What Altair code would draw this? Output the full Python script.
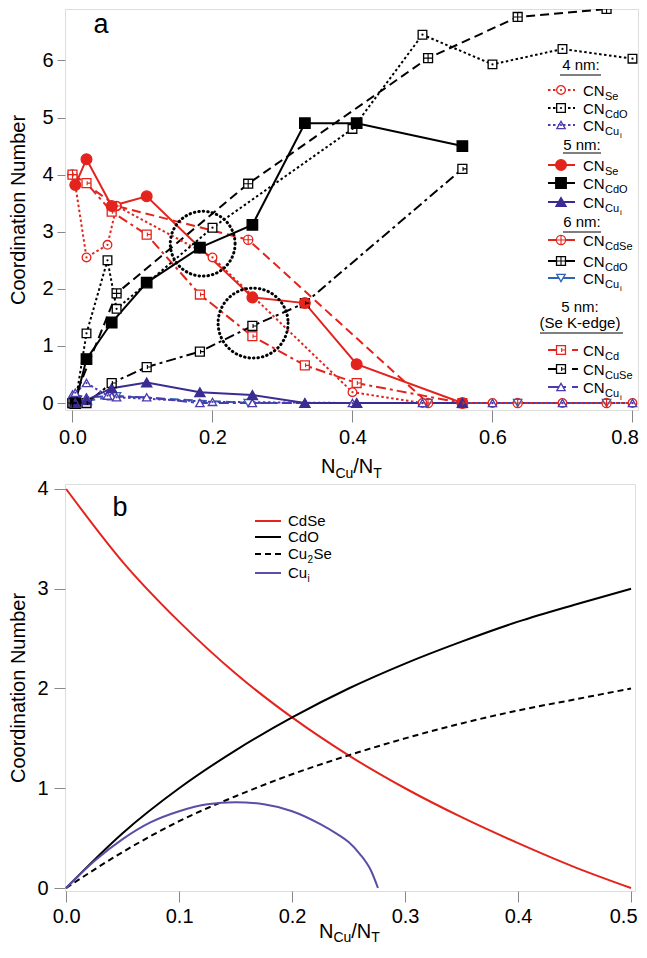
import altair as alt
import pandas as pd

# ---------------- panel a data ----------------
x_4nm = [0.004, 0.02, 0.05, 0.063, 0.2, 0.4, 0.5, 0.6, 0.7, 0.8]
cn_se_4nm = [3.82, 2.55, 2.77, 3.45, 2.55, 0.19, 0.0, 0.0, 0.0, 0.0]
cn_cdo_4nm = [0.0, 1.22, 2.5, 1.65, 3.07, 4.8, 6.45, 5.93, 6.2, 6.03]
cn_cui_4nm = [0.18, 0.35, 0.13, 0.1, 0.02, 0.0, 0.0, 0.0, 0.0, 0.0]

x_5nm = [0.004, 0.02, 0.056, 0.106, 0.182, 0.257, 0.332, 0.406, 0.557]
cn_se_5nm = [3.82, 4.27, 3.45, 3.62, 2.72, 1.85, 1.75, 0.68, 0.0]
cn_cdo_5nm = [0.0, 0.77, 1.41, 2.11, 2.72, 3.12, 4.9, 4.9, 4.5]
cn_cui_5nm = [0.0, 0.05, 0.26, 0.36, 0.19, 0.14, 0.0, 0.0, 0.0]

x_6nm = [0.0, 0.063, 0.251, 0.508, 0.636, 0.763]
cn_cdse_6nm = [4.0, 3.45, 2.86, 0.0, 0.0, 0.0]
cn_cdo_6nm = [0.0, 1.92, 3.84, 6.04, 6.76, 6.9]
cn_cui_6nm = [0.0, 0.12, 0.0, 0.0, 0.0, 0.0]

x_sek = [0.0, 0.02, 0.056, 0.106, 0.182, 0.257, 0.332, 0.406, 0.557]
cn_cd_sek = [4.0, 3.85, 3.35, 2.95, 1.9, 1.17, 0.66, 0.35, 0.0]
x_sek_cuse = [0.0, 0.02, 0.056, 0.106, 0.182, 0.257, 0.332, 0.557]
cn_cuse_sek = [0.0, 0.0, 0.35, 0.63, 0.9, 1.35, 1.75, 4.1]
cn_cui_sek = [0.15, 0.1, 0.12, 0.1, 0.0, 0.0, 0.0, 0.0, 0.0]

circle_x = [0.186, 0.258]
circle_y = [2.79, 1.40]

x_ticks_a = [0.0, 0.2, 0.4, 0.6, 0.8]
y_ticks_a = [0, 1, 2, 3, 4, 5, 6]

# ---------------- panel b data ----------------
x_b = [0.0, 0.05, 0.1, 0.15, 0.2, 0.25, 0.3, 0.35, 0.4, 0.45, 0.5]
cdse_b = [4.0, 3.27, 2.67, 2.15, 1.71, 1.33, 1.0, 0.71, 0.45, 0.21, 0.0]
cdo_b = [0.0, 0.55, 1.0, 1.38, 1.71, 2.0, 2.25, 2.47, 2.67, 2.84, 3.0]
cu2se_b = [0.0, 0.36, 0.67, 0.92, 1.14, 1.33, 1.5, 1.65, 1.78, 1.89, 2.0]
x_b_cui = [0.0, 0.025, 0.05, 0.075, 0.1, 0.125, 0.15, 0.175, 0.2, 0.225, 0.24, 0.25, 0.26, 0.27, 0.276]
cui_b = [0.0, 0.27, 0.49, 0.66, 0.77, 0.84, 0.86, 0.84, 0.77, 0.64, 0.54, 0.46, 0.34, 0.17, 0.0]

x_ticks_b = [0.0, 0.1, 0.2, 0.3, 0.4, 0.5]
y_ticks_b = [0, 1, 2, 3, 4]

# ---------------- styles ----------------
FONT = "Liberation Sans"
RED = "#e3241d"
BLACK = "#000000"
PURPLE = "#3a2c93"
PURPLE2 = "#4a3cae"
BLUE = "#2f64b5"
BPURPLE = "#5a4ea6"
DOT = [2.5, 2.5]
DASH = [9, 5]
DASHDOT = [10, 4, 3, 4]
PLUS = "M-1,0H1M0,-1V1"
BRACKET = "M0.15,-0.45V0.45M0.15,0H1"

W_A, H_A = 573, 401
W_B, H_B = 570, 407
OY = -1  # legend offset inside panel a

series_a = [
    (x_6nm, cn_cdse_6nm, RED, DASH, "circle", False, "plus", 85),
    (x_6nm, cn_cdo_6nm, BLACK, DASH, "square", False, "plus", 80),
    (x_6nm, cn_cui_6nm, BLUE, DASH, "triangle-down", False, None, 70),
    (x_sek, cn_cd_sek, RED, DASHDOT, "square", False, "bracket", 80),
    (x_sek_cuse, cn_cuse_sek, BLACK, DASHDOT, "square", False, "bracket", 80),
    (x_sek, cn_cui_sek, PURPLE2, DASHDOT, "triangle-up", False, None, 70),
    (x_4nm, cn_se_4nm, RED, DOT, "circle", False, "dot", 75),
    (x_4nm, cn_cdo_4nm, BLACK, DOT, "square", False, "dot", 75),
    (x_4nm, cn_cui_4nm, PURPLE2, DOT, "triangle-up", False, "dot", 70),
    (x_5nm, cn_se_5nm, RED, None, "circle", True, None, 115),
    (x_5nm, cn_cdo_5nm, BLACK, None, "square", True, None, 110),
    (x_5nm, cn_cui_5nm, PURPLE, None, "triangle-up", True, None, 105),
]


def last_label(v):
    return {"condition": {"test": f"datum.value >= {v}", "value": "right"}, "value": "center"}


def last_offset(v):
    return {"condition": {"test": f"datum.value >= {v}", "value": 6}, "value": 0}


xa_scale = alt.Scale(domain=[-0.0107, 0.8079], nice=False, zero=False)
ya_scale = alt.Scale(domain=[-0.122, 6.9], nice=False, zero=False)
xa = alt.X("x:Q", scale=xa_scale,
           axis=alt.Axis(values=x_ticks_a, format=".1f", tickSize=12, labelPadding=5,
                         labelFontSize=20, title=None, grid=False, domain=False,
                         labelAlign=last_label(0.79), labelOffset=last_offset(0.79)))
ya = alt.Y("y:Q", scale=ya_scale,
           axis=alt.Axis(values=y_ticks_a, format="d", tickSize=8, labelPadding=4,
                         labelFontSize=20, title="Coordination Number", titleFontSize=20,
                         titleFontWeight="normal", titlePadding=13, grid=False, domain=False))

layers_a = []
pts, dots, decos = [], [], []
for xs, ys, col, dash, shape, filled, deco, size in series_a:
    df = pd.DataFrame({"x": xs, "y": ys})
    kw = dict(color=col, strokeWidth=2, clip=True)
    if dash:
        kw["strokeDash"] = dash
    layers_a.append(alt.Chart(df).mark_line(**kw).encode(x=xa, y=ya))
    for xv, yv in zip(xs, ys):
        pts.append({"x": xv, "y": yv, "shape": shape, "fill": col if filled else "white",
                    "stroke": col, "size": size})
        if deco == "dot":
            dots.append({"x": xv, "y": yv, "stroke": col})
        elif deco in ("plus", "bracket"):
            decos.append({"x": xv, "y": yv, "stroke": col,
                          "shape": PLUS if deco == "plus" else BRACKET, "size": size})

layers_a.append(alt.Chart(pd.DataFrame(pts)).mark_point(filled=True, opacity=1, strokeWidth=1.3, clip=True).encode(
    x=xa, y=ya, shape=alt.Shape("shape:N", scale=None), fill=alt.Fill("fill:N", scale=None),
    stroke=alt.Stroke("stroke:N", scale=None), size=alt.Size("size:Q", scale=None)))
layers_a.append(alt.Chart(pd.DataFrame(dots)).mark_point(filled=True, opacity=1, size=5, shape="circle", clip=True).encode(
    x=xa, y=ya, fill=alt.Fill("stroke:N", scale=None)))
layers_a.append(alt.Chart(pd.DataFrame(decos)).mark_point(filled=False, opacity=1, strokeWidth=1.1, clip=True).encode(
    x=xa, y=ya, shape=alt.Shape("shape:N", scale=None), stroke=alt.Stroke("stroke:N", scale=None),
    size=alt.Size("size:Q", scale=None)))

circ_df = pd.DataFrame({"x": circle_x, "y": circle_y, "size": [4200, 4900]})
layers_a.append(alt.Chart(circ_df).mark_point(shape="circle", filled=False, color="black", opacity=1,
                                              strokeWidth=3, strokeDash=[0.5, 4], strokeCap="round").encode(
    x=xa, y=ya, size=alt.Size("size:Q", scale=None)))

# ---- legend of panel a ----
LX1, LX2, LMX, LTX = 483, 510, 496, 518
legend_rows = [
    (82, RED, DOT, "circle", False, "dot", "Se", None, 75),
    (100, BLACK, DOT, "square", False, "dot", "CdO", None, 75),
    (117, PURPLE2, DOT, "triangle-up", False, "dot", "Cu", "i", 70),
    (157, RED, None, "circle", True, None, "Se", None, 115),
    (175, BLACK, None, "square", True, None, "CdO", None, 110),
    (194, PURPLE, None, "triangle-up", True, None, "Cu", "i", 105),
    (232, RED, None, "circle", False, "plus", "CdSe", None, 85),
    (253, BLACK, None, "square", False, "plus", "CdO", None, 80),
    (270, BLUE, None, "triangle-down", False, None, "Cu", "i", 70),
    (342, RED, "split", "square", False, "bracket", "Cd", None, 80),
    (361, BLACK, "split", "square", False, "bracket", "CuSe", None, 80),
    (379, PURPLE2, "split", "triangle-up", False, None, "Cu", "i", 70),
]
lpts, ldots, ldecos, ltxt, lsub, lsub2 = [], [], [], [], [], []
for ry0, col, dash, shape, filled, deco, sub, sub2, size in legend_rows:
    ry = ry0 + OY
    if dash == "split":
        layers_a.append(alt.Chart().mark_rule(color=col, strokeWidth=2).encode(
            x=alt.value(LX1), x2=alt.value(LX1 + 18), y=alt.value(ry)))
        layers_a.append(alt.Chart().mark_rule(color=col, strokeWidth=2).encode(
            x=alt.value(LX1 + 24), x2=alt.value(LX1 + 30), y=alt.value(ry)))
    else:
        kw = dict(color=col, strokeWidth=2)
        if dash:
            kw["strokeDash"] = dash
        layers_a.append(alt.Chart().mark_rule(**kw).encode(
            x=alt.value(LX1), x2=alt.value(LX2), y=alt.value(ry)))
    lpts.append({"px": LMX, "py": ry, "shape": shape, "fill": col if filled else "white",
                 "stroke": col, "size": size})
    if deco == "dot":
        ldots.append({"px": LMX, "py": ry, "stroke": col})
    elif deco:
        ldecos.append({"px": LMX, "py": ry, "stroke": col, "size": size,
                       "shape": PLUS if deco == "plus" else BRACKET})
    ltxt.append({"px": LTX, "py": ry + 6, "t": "CN"})
    lsub.append({"px": LTX + 22, "py": ry + 10, "t": sub})
    if sub2:
        lsub2.append({"px": LTX + 22 + 15, "py": ry + 13, "t": sub2})

pxe = alt.X("px:Q", scale=None, axis=None)
pye = alt.Y("py:Q", scale=None, axis=None)
layers_a.append(alt.Chart(pd.DataFrame(lpts)).mark_point(filled=True, opacity=1, strokeWidth=1.3).encode(
    x=pxe, y=pye, shape=alt.Shape("shape:N", scale=None), fill=alt.Fill("fill:N", scale=None),
    stroke=alt.Stroke("stroke:N", scale=None), size=alt.Size("size:Q", scale=None)))
layers_a.append(alt.Chart(pd.DataFrame(ldots)).mark_point(filled=True, opacity=1, size=5, shape="circle").encode(
    x=pxe, y=pye, fill=alt.Fill("stroke:N", scale=None)))
layers_a.append(alt.Chart(pd.DataFrame(ldecos)).mark_point(filled=False, opacity=1, strokeWidth=1.1).encode(
    x=pxe, y=pye, shape=alt.Shape("shape:N", scale=None), stroke=alt.Stroke("stroke:N", scale=None),
    size=alt.Size("size:Q", scale=None)))
for rows, fs in ((ltxt, 15), (lsub, 11), (lsub2, 8)):
    layers_a.append(alt.Chart(pd.DataFrame(rows)).mark_text(align="left", baseline="alphabetic", fontSize=fs, color="black").encode(
        x=pxe, y=pye, text="t:N"))

headers = pd.DataFrame({"px": [516, 517, 517, 515, 515],
                        "py": [62 + OY, 142 + OY, 219 + OY, 304 + OY, 320 + OY],
                        "t": ["4 nm:", "5 nm:", "6 nm:", "5 nm:", "(Se K-edge)"]})
layers_a.append(alt.Chart(headers).mark_text(align="center", baseline="alphabetic", fontSize=15, color="black").encode(
    x=pxe, y=pye, text="t:N"))
for (ux1, ux2, uy) in ((495, 536, 67), (498, 536, 145), (498, 536, 224), (475, 558, 325)):
    layers_a.append(alt.Chart().mark_rule(color="black", strokeWidth=1.2).encode(
        x=alt.value(ux1), x2=alt.value(ux2), y=alt.value(uy + OY)))

label_a = pd.DataFrame({"px": [36], "py": [24], "t": ["a"]})
layers_a.append(alt.Chart(label_a).mark_text(align="center", baseline="alphabetic", fontSize=27, color="black").encode(
    x=pxe, y=pye, text="t:N"))


def x_title(x0, yb, dsub=5):
    big = pd.DataFrame({"px": [x0, x0 + 32.3], "py": [yb, yb], "t": ["N", "/N"]})
    small = pd.DataFrame({"px": [x0 + 14.4, x0 + 52.3], "py": [yb + dsub, yb + dsub], "t": ["Cu", "T"]})
    return [
        alt.Chart(big).mark_text(align="left", baseline="alphabetic", fontSize=20, color="black").encode(
            x=pxe, y=pye, text="t:N"),
        alt.Chart(small).mark_text(align="left", baseline="alphabetic", fontSize=14, color="black").encode(
            x=pxe, y=pye, text="t:N"),
    ]


layers_a += x_title(256, 464)

panel_a = alt.layer(*layers_a).properties(width=W_A, height=H_A)

# ---------------- panel b ----------------
xb_scale = alt.Scale(domain=[-0.001, 0.5035], nice=False, zero=False)
yb_scale = alt.Scale(domain=[-0.03, 4.05], nice=False, zero=False)
xb = alt.X("x:Q", scale=xb_scale,
           axis=alt.Axis(values=x_ticks_b, format=".1f", tickSize=11, labelPadding=4,
                         labelFontSize=20, title=None, grid=False, domain=False,
                         labelAlign=last_label(0.49), labelOffset=last_offset(0.49)))
yb = alt.Y("y:Q", scale=yb_scale,
           axis=alt.Axis(values=y_ticks_b, format="d", tickSize=11, labelPadding=6,
                         labelFontSize=20, title="Coordination Number", titleFontSize=20,
                         titleFontWeight="normal", titlePadding=8, grid=False, domain=False))

series_b = [
    (x_b, cdse_b, RED, None),
    (x_b, cdo_b, BLACK, None),
    (x_b, cu2se_b, BLACK, [6, 4]),
    (x_b_cui, cui_b, BPURPLE, None),
]
layers_b = []
for xs, ys, col, dash in series_b:
    kw = dict(color=col, strokeWidth=2, interpolate="monotone", clip=True)
    if dash:
        kw["strokeDash"] = dash
    layers_b.append(alt.Chart(pd.DataFrame({"x": xs, "y": ys})).mark_line(**kw).encode(x=xb, y=yb))

bl_rows = [(37, RED, None), (53, BLACK, None), (70, BLACK, [6, 4]), (89, BPURPLE, None)]
for ry, col, dash in bl_rows:
    kw = dict(color=col, strokeWidth=2)
    if dash:
        kw["strokeDash"] = dash
    layers_b.append(alt.Chart().mark_rule(**kw).encode(x=alt.value(190), x2=alt.value(216), y=alt.value(ry)))

bl_big = pd.DataFrame({"px": [223, 223, 223, 223 + 19.5 + 6, 223],
                       "py": [42, 58, 75, 75, 94],
                       "t": ["CdSe", "CdO", "Cu", "Se", "Cu"]})
bl_small = pd.DataFrame({"px": [223 + 19.5, 223 + 19.5], "py": [79, 98], "t": ["2", "i"]})
layers_b.append(alt.Chart(bl_big).mark_text(align="left", baseline="alphabetic", fontSize=15, color="black").encode(
    x=pxe, y=pye, text="t:N"))
layers_b.append(alt.Chart(bl_small).mark_text(align="left", baseline="alphabetic", fontSize=10, color="black").encode(
    x=pxe, y=pye, text="t:N"))
label_b = pd.DataFrame({"px": [55], "py": [32], "t": ["b"]})
layers_b.append(alt.Chart(label_b).mark_text(align="center", baseline="alphabetic", fontSize=27, color="black").encode(
    x=pxe, y=pye, text="t:N"))
layers_b += x_title(254, 454, dsub=4)

panel_b = alt.layer(*layers_b).properties(width=W_B, height=H_B)

chart = alt.vconcat(panel_a, panel_b, spacing=74, bounds="flush").properties(
    autosize=alt.AutoSizeParams(type="none"),
    padding={"left": 57, "top": 1, "right": 574, "bottom": 937},
).configure_view(
    stroke="black", strokeWidth=2
).configure_axis(
    domain=False, grid=False, tickColor="black", tickWidth=1.8, labelColor="black",
    labelFont=FONT, titleFont=FONT, titleFontWeight="normal", titleColor="black"
).configure_text(font=FONT).configure(background="white")

chart.save("out.html", embed_options={"renderer": "svg", "actions": False})
